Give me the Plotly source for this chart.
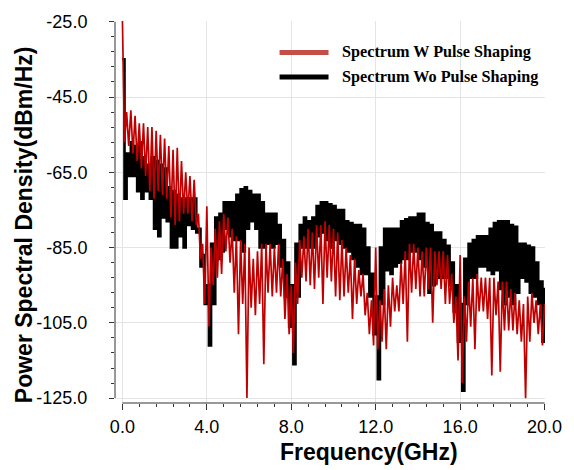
import plotly.graph_objects as go

# ---------------- data ----------------
freq = [0.0, 0.2, 0.4, 0.6, 0.8, 1.0, 1.2, 1.4, 1.6, 1.8,
        2.0, 2.2, 2.4, 2.6, 2.8, 3.0, 3.2, 3.4, 3.6, 3.8,
        4.0, 4.2, 4.4, 4.6, 4.8, 5.0, 5.2, 5.4, 5.6, 5.8,
        6.0, 6.2, 6.4, 6.6, 6.8, 7.0, 7.2, 7.4, 7.6, 7.8,
        8.0, 8.2, 8.4, 8.6, 8.8, 9.0, 9.2, 9.4, 9.6, 9.8,
        10.0, 10.2, 10.4, 10.6, 10.8, 11.0, 11.2, 11.4, 11.6, 11.8,
        12.0, 12.2, 12.4, 12.6, 12.8, 13.0, 13.2, 13.4, 13.6, 13.8,
        14.0, 14.2, 14.4, 14.6, 14.8, 15.0, 15.2, 15.4, 15.6, 15.8,
        16.0, 16.2, 16.4, 16.6, 16.8, 17.0, 17.2, 17.4, 17.6, 17.8,
        18.0, 18.2, 18.4, 18.6, 18.8, 19.0, 19.2, 19.4, 19.6, 19.8,
        20.0]

# Spectrum without pulse shaping (black): upper / lower excursions
black_hi = [-35, -60, -57, -58, -57, -61, -63, -61, -62, -63,
            -64, -69, -70, -71, -72, -72, -72, -72, -80, -87,
            -95, -84, -77, -76, -73, -73, -73, -71, -69.5, -69,
            -70, -71, -71, -73, -76, -76, -76, -79, -83, -89,
            -95, -84, -79, -77, -78, -77, -74, -73, -73, -73.5,
            -74, -75, -75, -78, -78.5, -79, -79, -80, -85, -92,
            -98, -85, -80, -80, -80, -80, -78, -77.5, -77, -77,
            -76, -76, -78.5, -79, -81, -81, -83, -84.5, -89, -95,
            -100, -88, -84, -83, -82, -82, -82, -80, -78.5, -78,
            -78, -78, -79, -79.5, -84, -84, -84.5, -85, -89, -94,
            -96]
black_lo = [-72, -66, -66, -70, -72, -70, -72, -80, -82, -77,
            -78, -85, -85, -82, -85, -79, -80, -81, -90, -100,
            -111, -100, -88, -86, -80, -82, -83, -83, -86, -80,
            -78, -80, -85, -85, -84, -85, -84, -90, -98, -106,
            -116, -98, -85, -85, -85, -85, -82, -81, -83, -85,
            -83, -84, -85, -86, -88, -90, -92, -92, -98, -108,
            -120, -100, -91, -92, -90, -89, -88, -88, -86, -86,
            -88, -90, -97, -95, -93, -93, -93, -95, -102, -110,
            -123, -100, -93, -93, -90, -90, -91, -92, -91, -96,
            -100, -98, -100, -97, -93, -94, -97, -98, -100, -110,
            -120]

# Spectrum with pulse shaping (red): upper / lower excursions
red_hi = [-24, -49, -48.5, -50, -52, -52, -53, -53, -54, -55,
          -56, -58, -59, -58.5, -62, -65, -66, -67, -76, -84,
          -74, -85, -80, -78, -76, -77, -80, -82, -83, -84,
          -85, -88, -86, -84, -84, -84, -85, -84, -88, -92,
          -95, -89, -83, -82, -80, -81, -79, -79, -78, -79,
          -80, -81, -83, -85, -87, -88, -91, -92, -97, -99,
          -85, -99, -96, -95, -93, -95, -89, -86, -84, -84,
          -85, -86, -85, -85, -86, -86, -86, -87, -92, -98,
          -87, -98, -94, -93, -92, -93, -93, -93, -93, -94,
          -94, -94, -96, -97, -99, -100, -98, -97, -99, -100,
          -100]
red_lo = [-57, -58, -60, -62, -64, -66, -70, -72, -70, -71,
          -72, -77, -79, -78, -76, -76, -78, -79, -88, -100,
          -106, -95, -93, -92, -86, -89, -97, -108, -100, -125,
          -101, -103, -100, -116, -97, -98, -97, -98, -104, -108,
          -113, -100, -93, -94, -95, -96, -93, -100, -93, -94,
          -98, -99, -98, -97, -104, -100, -98, -103, -108, -111,
          -112, -110, -112, -106, -102, -102, -100, -110, -97, -96,
          -98, -98, -96, -105, -95, -96, -100, -100, -105, -115,
          -121, -110, -106, -112, -102, -102, -104, -119, -103, -118,
          -107, -107, -107, -108, -110, -125, -110, -105, -108, -111,
          -104]

x_tick_vals = [0, 4, 8, 12, 16, 20]
x_tick_text = ["0.0", "4.0", "8.0", "12.0", "16.0", "20.0"]
y_tick_vals = [-25, -45, -65, -85, -105, -125]
y_tick_text = ["-25.0", "-45.0", "-65.0", "-85.0", "-105.0", "-125.0"]

series_names = ["Spectrum W Pulse Shaping", "Spectrum Wo Pulse Shaping"]


def zigzag(f, hi, lo):
    xs, ys = [], []
    for fi, h, l in zip(f, hi, lo):
        xs += [fi, fi + 0.1]
        ys += [h, l]
    return xs, ys


bx, by = zigzag(freq, black_hi, black_lo)
rx, ry = zigzag(freq, red_hi, red_lo)

# ---------------- geometry ----------------
W, H = 574, 470
L, R, T, B = 115, 20, 14, 67
pw, ph = W - L - R, H - T - B


def px2paper_x(px):
    return (px - L) / pw


def py2paper_y(py):
    return (H - B - py) / ph


fig = go.Figure()
fig.add_trace(go.Scatter(x=bx, y=by, mode="lines", name=series_names[1],
                         line=dict(color="#000000", width=2.6, shape="hv"),
                         showlegend=False))
fig.add_trace(go.Scatter(x=rx, y=ry, mode="lines", name=series_names[0],
                         line=dict(color="#c00000", width=1.7),
                         showlegend=False))

tickfont = dict(family="Liberation Sans, Arial, sans-serif", size=18, color="#000")

fig.update_layout(
    width=W, height=H,
    margin=dict(l=L, r=R, t=T, b=B, pad=0),
    paper_bgcolor="white", plot_bgcolor="white",
    xaxis=dict(range=[-0.35, 20.02], showline=False, zeroline=False,
               showgrid=True, gridcolor="#e4e4e4", gridwidth=1,
               tickmode="array", tickvals=x_tick_vals, ticktext=x_tick_text,
               ticks="outside", ticklen=6, tickwidth=1, tickcolor="#333",
               ticklabelstandoff=1,
               minor=dict(tick0=0, dtick=0.8, ticks="outside", ticklen=3,
                          tickcolor="#333", showgrid=False),
               tickfont=tickfont),
    yaxis=dict(range=[-126.3, -24.8], showline=False, zeroline=False,
               showgrid=True, gridcolor="#e4e4e4", gridwidth=1,
               tickmode="array", tickvals=y_tick_vals, ticktext=y_tick_text,
               ticks="outside", ticklen=5, tickwidth=1, tickcolor="#333",
               ticklabelstandoff=18,
               minor=dict(tick0=-25, dtick=4, ticks="outside", ticklen=3,
                          tickcolor="#333", showgrid=False),
               tickfont=tickfont),
    showlegend=False,
)

# offset axis lines spanning only the data extent
fig.add_shape(type="line", xref="x", yref="paper", x0=0, x1=20, y0=0, y1=0,
              line=dict(color="#333", width=1))
fig.add_shape(type="line", xref="paper", yref="y", x0=0, x1=0, y0=-125, y1=-25,
              line=dict(color="#333", width=1))

# legend (manual)
leg_y = [46, 71]
leg_col = ["rgb(196,78,72)", "#000000"]
for name, yy, col in zip(series_names, leg_y, leg_col):
    fig.add_shape(type="line", xref="paper", yref="paper",
                  x0=px2paper_x(283), x1=px2paper_x(333),
                  y0=py2paper_y(yy), y1=py2paper_y(yy),
                  line=dict(color=col, width=5))
    fig.add_annotation(xref="paper", yref="paper", x=px2paper_x(345),
                       y=py2paper_y(yy), xanchor="left", yanchor="middle",
                       text="<b>%s</b>" % name, showarrow=False,
                       font=dict(family="Liberation Serif, Times New Roman, serif",
                                 size=16.2, color="#000"))

# axis titles
fig.add_annotation(xref="paper", yref="paper", x=px2paper_x(374),
                   y=py2paper_y(453), xanchor="center", yanchor="middle",
                   text="<b>Frequency(GHz)</b>", showarrow=False,
                   font=dict(family="Liberation Sans, Arial, sans-serif",
                             size=23, color="#000"))
fig.add_annotation(xref="paper", yref="paper", x=px2paper_x(22),
                   y=py2paper_y(221), xanchor="center", yanchor="middle",
                   text="<b>Power Spectral Density(dBm/Hz)</b>", showarrow=False,
                   textangle=-90,
                   font=dict(family="Liberation Sans, Arial, sans-serif",
                             size=23, color="#000"))

fig.write_html("out.html")
